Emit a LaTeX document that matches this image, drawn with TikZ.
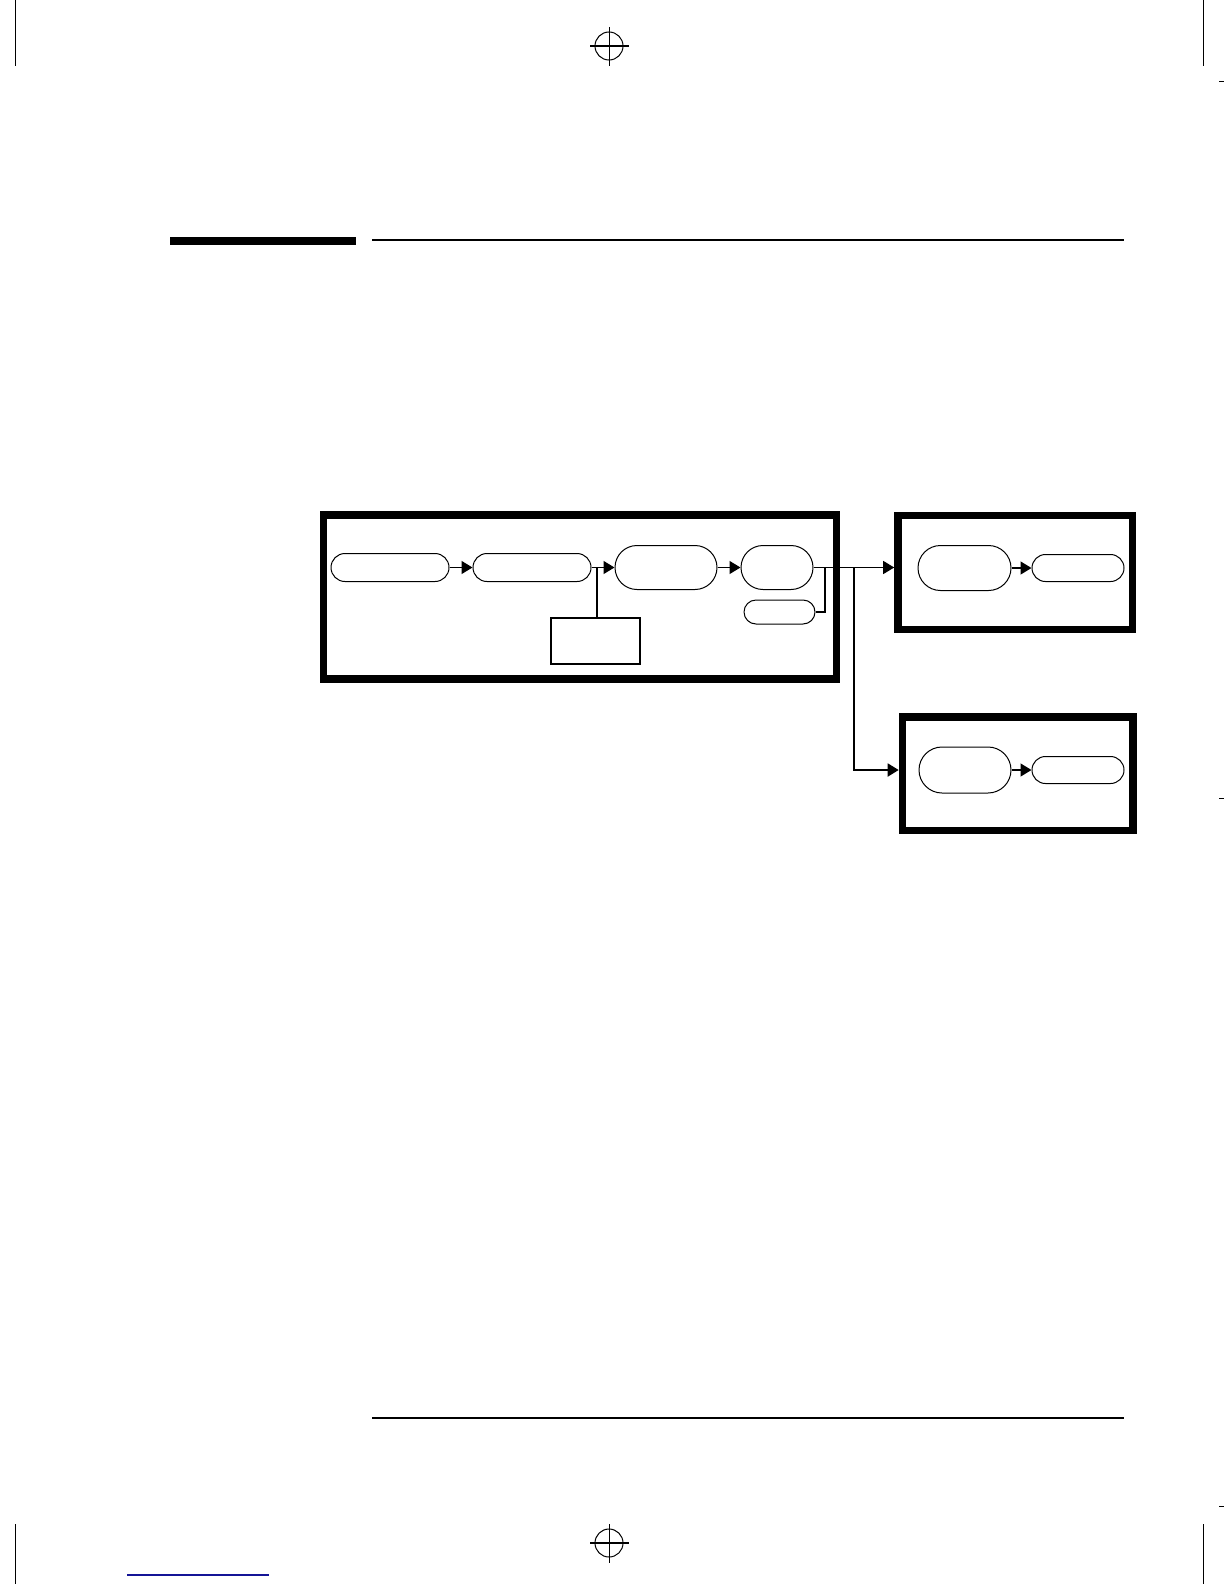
\documentclass[tikz,border=0pt]{standalone}
\usetikzlibrary{shapes.misc,arrows.meta}
\begin{document}
\begin{tikzpicture}[x=0.5pt,y=-0.5pt,
  pill/.style={rounded rectangle, draw, line width=0.5pt, inner sep=0pt},
  plainbox/.style={rectangle, draw, line width=0.55pt, inner sep=0pt},
  frame/.style={rectangle, draw, line width=3.8pt, inner sep=0pt},
  conn/.style={line width=0.65pt},
  arr/.style={conn, -{Triangle[length=5.5pt,width=6.5pt]}},
  cropline/.style={line width=0.5pt},
  pagerule/.style={line width=0.8pt}]
\useasboundingbox (0,0) rectangle (1224,1584);

% --- page furniture: crop marks, registration targets, rules ---
\draw[cropline] (15,0) -- (15,66);
\draw[cropline] (1203,0) -- (1203,66);
\draw[cropline] (15,1524) -- (15,1584);
\draw[cropline] (1203,1524) -- (1203,1584);
\draw[cropline] (1219,82) -- (1224,82);
\draw[cropline] (1219,798) -- (1224,798);
\draw[cropline] (1219,1506) -- (1224,1506);
\draw[cropline] (609,46) circle[radius=7pt];
\draw[cropline] (609,27) -- (609,66);
\draw[line width=0.7pt] (590,46) -- (629,46);
\draw[cropline] (609,1543) circle[radius=7pt];
\draw[cropline] (609,1524) -- (609,1563);
\draw[line width=0.7pt] (590,1543) -- (629,1543);
\fill (170,237) rectangle (356,245);
\draw[pagerule] (372,240) -- (1124,240);
\draw[pagerule] (372,1418) -- (1124,1418);
\draw[line width=0.8pt, color={rgb,255:red,20;green,20;blue,150}] (127,1575) -- (269,1575);

% --- frames ---
\node[frame, minimum width=256.5pt, minimum height=82pt] (box1) at (580,597) {};
\node[frame, minimum width=117.25pt, minimum height=57pt] (box1R) at (1015.25,572.5) {};
\node[frame, minimum width=115.25pt, minimum height=56.75pt] (box2) at (1017.75,773.75) {};

% --- nodes in the main frame ---
\node[pill, minimum width=59pt, minimum height=14pt] (A) at (390,567.5) {};
\node[pill, minimum width=59pt, minimum height=14pt] (B) at (532,567.5) {};
\node[pill, minimum width=51pt, minimum height=22pt] (C) at (666,567.5) {};
\node[pill, minimum width=36pt, minimum height=22pt] (D) at (777,567.5) {};
\node[pill, minimum width=35.5pt, minimum height=12pt] (E) at (779.5,612) {};
\node[plainbox, minimum width=44.5pt, minimum height=23pt] (R) at (595.5,641) {};

% --- nodes in the right frames ---
\node[pill, minimum width=46.5pt, minimum height=22.5pt] (F) at (964.5,568) {};
\node[pill, minimum width=46pt, minimum height=13.5pt] (G) at (1078,568) {};
\node[pill, minimum width=46pt, minimum height=23pt] (H) at (965,770) {};
\node[pill, minimum width=46pt, minimum height=13.5pt] (I) at (1078,770) {};

% --- connectors ---
\coordinate (j1) at (597,567.5);
\coordinate (k) at (825,567.5);
\coordinate (j2) at (854,567.5);
\draw[arr] (A.east) -- (B.west);
\draw[conn] (B.east) -- (j1);
\draw[arr] (j1) -- (C.west);
\draw[conn] (j1) -- (j1 |- R.north);
\draw[arr] (C.east) -- (D.west);
\draw[conn] (E.east) -| (k);
\draw[arr] (D.east) -- (D.east -| box1R.west);
\draw[arr, line width=0.9pt] (j2) |- (H -| box2.west);
\draw[arr] (F.east) -- (G.west);
\draw[arr] (H.east) -- (I.west);
\end{tikzpicture}
\end{document}
